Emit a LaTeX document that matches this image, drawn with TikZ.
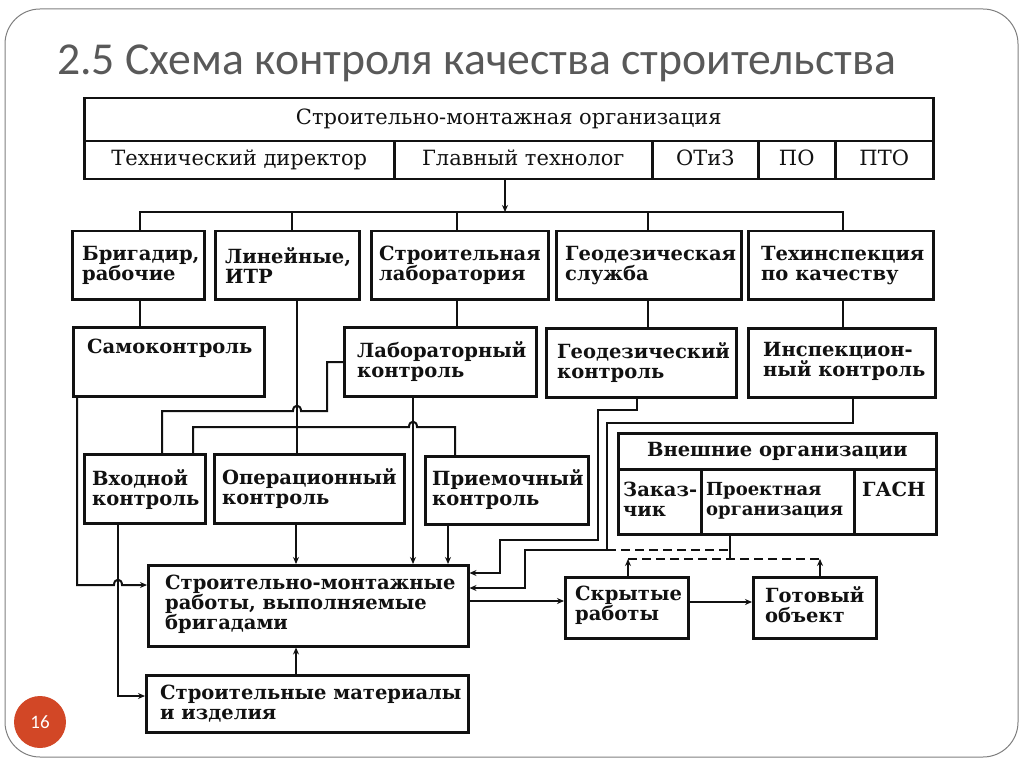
\documentclass[tikz,border=0pt]{standalone}
\usepackage{fontspec}
\setmainfont{DejaVu Serif}
\newfontfamily\titlefont{Carlito}
\usetikzlibrary{arrows.meta}
\definecolor{ink}{HTML}{111111}
\definecolor{titlegray}{HTML}{595959}
\definecolor{numorange}{HTML}{D24726}
\definecolor{framegray}{HTML}{7F7F7F}
\newcommand{\bxn}[5]{\node[bx, minimum width=#4pt, minimum height=#5pt] (#1) at (#2,#3) {};}
\begin{document}
\begin{tikzpicture}[x=1pt,y=-1pt,
  bx/.style={draw=ink, line width=2.5pt, rectangle, inner sep=0pt, anchor=north west},
  tx/.style={inner sep=0pt, align=left, anchor=north west, text=ink, font=\bfseries\fontsize{19.5}{20}\selectfont},
  txw/.style={tx, anchor=west},
  txc/.style={inner sep=0pt, text height=15pt, text depth=5pt, text=ink, font=\fontsize{21}{22}\selectfont},
  ln/.style={draw=ink, line width=2pt},
  ar/.style={ln, -{Stealth[length=7pt,width=6pt]}},
  dsh/.style={ln, dash pattern=on 9pt off 5pt},
]
\useasboundingbox (0,0) rectangle (1024,767);
\draw[framegray, line width=1pt, rounded corners=35pt] (5,9) rectangle (1018,757);
\node[anchor=base west, inner sep=0pt, text=titlegray, font=\titlefont\fontsize{45.7}{50}\selectfont] (title) at (57,75) {2.5 Схема контроля качества строительства};
\node[circle, fill=numorange, minimum size=52pt, inner sep=0pt, text=white, font=\titlefont\fontsize{19}{19}\selectfont] (pg) at (40,722) {16};

% top organisation box
\bxn{org}{83}{97}{849}{43}
\bxn{tdir}{83}{140}{310}{38}
\bxn{glt}{393}{140}{258}{38}
\bxn{otiz}{651}{140}{106}{38}
\bxn{po}{757}{140}{77}{38}
\bxn{pto}{834}{140}{98}{38}
\node[txc] (org-t) at (org.center) {Строительно-монтажная организация};
\node[txc] (tdir-t) at (tdir.center) {Технический директор};
\node[txc] (glt-t) at (glt.center) {Главный технолог};
\node[txc] (otiz-t) at (otiz.center) {ОТиЗ};
\node[txc] (po-t) at (po.center) {ПО};
\node[txc] (pto-t) at (pto.center) {ПТО};

% row 2
\bxn{brig}{71}{230}{132}{68}
\bxn{lin}{214}{230}{144}{68}
\bxn{slab}{370}{230}{177}{68}
\bxn{geos}{555}{230}{185}{68}
\bxn{tech}{747}{230}{185}{68}
\node[txw] (brig-t) at ([xshift=11pt]brig.west) {Бригадир,\\рабочие};
\node[txw] (lin-t) at ([xshift=11pt]lin.west) {Линейные,\\ИТР};
\node[txw] (slab-t) at ([xshift=9pt]slab.west) {Строительная\\лаборатория};
\node[txw] (geos-t) at ([xshift=10pt]geos.west) {Геодезическая\\служба};
\node[txw] (tech-t) at ([xshift=14pt]tech.west) {Техинспекция\\по качеству};

% row 3
\bxn{samo}{72}{326}{191}{69}
\bxn{labk}{343}{326}{192}{69}
\bxn{geok}{545}{327}{190}{69}
\bxn{insp}{747}{327}{187}{69}
\node[tx] (samo-t) at ([shift={(15pt,-13pt)}]samo.north west) {Самоконтроль};
\node[tx] (labk-t) at ([shift={(14pt,-15pt)}]labk.north west) {Лабораторный\\контроль};
\node[tx] (geok-t) at ([shift={(12pt,-15pt)}]geok.north west) {Геодезический\\контроль};
\node[tx] (insp-t) at ([shift={(16pt,-15pt)}]insp.north west) {Инспекцион-\\ный контроль};

% row 4
\bxn{vhod}{83}{453}{121}{69}
\bxn{oper}{213}{453}{190}{69}
\bxn{prie}{424}{455}{163}{68}
\node[tx] (vhod-t) at ([shift={(9pt,-16pt)}]vhod.north west) {Входной\\контроль};
\node[tx] (oper-t) at ([shift={(9pt,-15pt)}]oper.north west) {Операционный\\контроль};
\node[tx] (prie-t) at ([shift={(8pt,-14pt)}]prie.north west) {Приемочный\\контроль};

% external organisations
\bxn{ext}{617}{432}{318}{36}
\bxn{zak}{617}{468}{83}{65}
\bxn{proj}{700}{468}{153}{65}
\bxn{gasn}{853}{468}{82}{65}
\node[tx, anchor=center] (ext-t) at (ext.center) {Внешние организации};
\node[tx] (zak-t) at ([shift={(6pt,-14pt)}]zak.north west) {Заказ-\\чик};
\node[tx, font=\bfseries\fontsize{18}{20}\selectfont] (proj-t) at ([shift={(6pt,-14pt)}]proj.north west) {Проектная\\организация};
\node[tx] (gasn-t) at ([shift={(9pt,-14pt)}]gasn.north west) {ГАСН};

% bottom
\bxn{smr}{147}{564}{320}{81}
\bxn{mat}{145}{674}{322}{57}
\bxn{skr}{564}{576}{123}{61}
\bxn{got}{752}{576}{123}{61}
\node[tx] (smr-t) at ([shift={(18pt,-11pt)}]smr.north west) {Строительно-монтажные\\работы, выполняемые\\бригадами};
\node[tx] (mat-t) at ([shift={(15pt,-11pt)}]mat.north west) {Строительные материалы\\и изделия};
\node[tx] (skr-t) at ([shift={(11pt,-10pt)}]skr.north west) {Скрытые\\работы};
\node[tx] (got-t) at ([shift={(13pt,-10pt)}]got.north west) {Готовый\\объект};

% connectors: top bus
\draw[ar] (glt.south -| 505,0) -- (505,212);
\draw[ln] (brig.north -| 140,0) -- (140,212) -- (843,212) -- (tech.north -| 843,0);
\draw[ln] (lin.north -| 292,0) -- (292,212);
\draw[ln] (slab.north -| 457,0) -- (457,212);
\draw[ln] (geos.north -| 648,0) -- (648,212);

% row 2 -> row 3
\draw[ln] (brig.south -| 140,0) -- (samo.north -| 140,0);
\draw[ln] (slab.south -| 457,0) -- (labk.north -| 457,0);
\draw[ln] (geos.south -| 648,0) -- (geok.north -| 648,0);
\draw[ln] (tech.south -| 843,0) -- (insp.north -| 843,0);

% ITR
\draw[ln] (lin.south -| 297,0) -- (oper.north -| 297,0);
\draw[ln] (vhod.north -| 193,0) -- (193,427) -- (409,427) .. controls (409,420) and (417,420) .. (417,427) -- (455,427) -- (prie.north -| 455,0);

% laboratory control
\draw[ln] (labk.west |- 0,362) -- (327,362) -- (327,411) -- (301,411) .. controls (301,404) and (293,404) .. (293,411) -- (162,411) -- (vhod.north -| 162,0);
\draw[ar] (labk.south -| 413,0) -- (smr.north -| 413,0);

% self control
\draw[ar] (samo.south -| 77,0) -- (77,585) -- (114,585) .. controls (114,578) and (122,578) .. (122,585) -- (smr.west |- 0,585);
% incoming control
\draw[ar] (vhod.south -| 118,0) -- (118,696) -- (mat.west |- 0,696);
\draw[ar] (oper.south -| 296,0) -- (smr.north -| 296,0);
\draw[ar] (prie.south -| 448,0) -- (smr.north -| 448,0);
\draw[ar] (mat.north -| 296,0) -- (smr.south -| 296,0);

% geodesic and inspection control
\draw[ar] (geok.south -| 637,0) -- (637,410) -- (598,410) -- (598,540) -- (500,540) -- (500,573) -- (smr.east |- 0,573);
\coordinate (ij) at (607,550);
\draw[ar] (insp.south -| 853,0) -- (853,423) -- (607,423) -- (ij) -- (525,550) -- (525,588) -- (smr.east |- 0,588);

% dashed acceptance lines
\coordinate (pj) at (730,550);
\coordinate (pj2) at (730,559);
\coordinate (sj) at (628,559);
\coordinate (gj) at (820,559);
\draw[dsh] (ij) -- (pj);
\draw[ln] (proj.south -| pj) -- (pj2);
\draw[dsh] (sj) -- (gj);
\draw[ar] (skr.north -| sj) -- (sj);
\draw[ar] (got.north -| gj) -- (gj);

% flow
\draw[ar] (smr.east |- 0,601) -- (skr.west |- 0,601);
\draw[ar] (skr.east |- 0,602) -- (got.west |- 0,602);
\end{tikzpicture}
\end{document}
